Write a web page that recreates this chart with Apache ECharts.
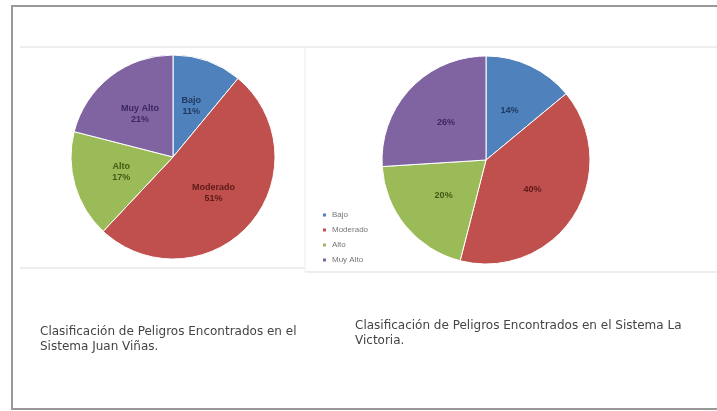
<!DOCTYPE html>
<html><head><meta charset="utf-8">
<script src="https://cdn.jsdelivr.net/npm/echarts@6/dist/echarts.min.js"></script>
<style>html,body{margin:0;padding:0;background:#fff;}#c{width:717px;height:411px;}</style>
</head><body><div id="c"></div>
<script>
const categories = ['Bajo', 'Moderado', 'Alto', 'Muy Alto'];
const juanVinasValues = [11, 51, 17, 21];
const laVictoriaValues = [14, 40, 20, 26];
const colors = ['#4F81BD', '#C0504D', '#9BBB59', '#8064A2'];
const labelColors = ['#1f3a60', '#5c1a18', '#3f5a12', '#3a2660'];
const titleLeft = ['Clasificación de Peligros Encontrados en el', 'Sistema Juan Viñas.'];
const titleRight = ['Clasificación de Peligros Encontrados en el Sistema La', 'Victoria.'];

const chart = echarts.init(document.getElementById('c'));
const font = 'Liberation Sans, Arial, sans-serif';
const tfont = 'DejaVu Sans, sans-serif';
function mk(vals) {
  return categories.map((n, i) => ({
    name: n, value: vals[i],
    itemStyle: { color: colors[i] },
    label: { color: labelColors[i] }
  }));
}
chart.setOption({
  animation: false,
  color: colors,
  legend: {
    orient: 'vertical', left: 316, top: 206,
    itemWidth: 5, itemHeight: 5, itemGap: 7, icon: 'rect',
    textStyle: { fontSize: 8, color: '#777', fontFamily: font },
    data: categories
  },
  graphic: [
    { type: 'rect', shape: { x: 12, y: 6, width: 710, height: 403 }, style: { fill: 'none', stroke: '#999', lineWidth: 2 } },
    { type: 'line', shape: { x1: 20, y1: 47, x2: 717, y2: 47 }, style: { stroke: '#ddd', lineWidth: 1 } },
    { type: 'line', shape: { x1: 20, y1: 268, x2: 305, y2: 268 }, style: { stroke: '#ddd', lineWidth: 1 } },
    { type: 'line', shape: { x1: 305, y1: 272, x2: 717, y2: 272 }, style: { stroke: '#ddd', lineWidth: 1 } },
    { type: 'line', shape: { x1: 305, y1: 47, x2: 305, y2: 272 }, style: { stroke: '#eee', lineWidth: 1 } },
    { type: 'text', left: 40, top: 324, style: { text: titleLeft.join('\n'), fontSize: 12, lineHeight: 15, fill: '#444', fontFamily: tfont } },
    { type: 'text', left: 355, top: 318, style: { text: titleRight.join('\n'), fontSize: 12, lineHeight: 15, fill: '#444', fontFamily: tfont } }
  ],
  series: [
    {
      type: 'pie', center: [173, 157], radius: 102, startAngle: 90, clockwise: true,
      label: { position: 'inside', formatter: '{b}\n{c}%', fontSize: 9, fontWeight: 'bold', fontFamily: font, lineHeight: 11 },
      labelLine: { show: false },
      itemStyle: { borderColor: '#fff', borderWidth: 1 },
      emphasis: { disabled: true },
      data: mk(juanVinasValues)
    },
    {
      type: 'pie', center: [486, 160], radius: 104, startAngle: 90, clockwise: true,
      label: { position: 'inside', formatter: '{c}%', fontSize: 9, fontWeight: 'bold', fontFamily: font },
      labelLine: { show: false },
      itemStyle: { borderColor: '#fff', borderWidth: 1 },
      emphasis: { disabled: true },
      data: mk(laVictoriaValues)
    }
  ]
});
</script></body></html>
